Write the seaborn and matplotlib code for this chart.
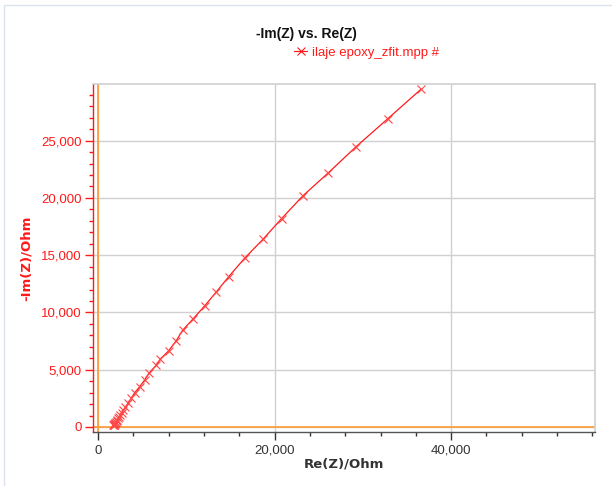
import numpy as np
import pandas as pd
import matplotlib
matplotlib.use("Agg")
import matplotlib.pyplot as plt
import seaborn as sns
from matplotlib.ticker import MultipleLocator, FixedLocator, FuncFormatter
from matplotlib.lines import Line2D
from matplotlib.patches import Rectangle

# Nyquist data: real and negative imaginary impedance (Ohm)
re_z = [36600, 32800, 29200, 26100, 23200, 20800, 18700, 16600, 14800, 13400,
        12100, 10750, 9600, 8850, 8000, 7050, 6600, 5750, 5270, 4700,
        4140, 3760, 3380, 3100, 2880, 2700, 2540, 2400, 2290, 2190,
        2100, 2030, 1970, 1920, 1880, 1840, 1810, 1780, 1760, 1740]
neg_im_z = [29500, 26900, 24450, 22200, 20180, 18200, 16400, 14730, 13120, 11790,
            10590, 9420, 8460, 7520, 6650, 5920, 5400, 4670, 4090, 3500,
            2980, 2490, 2050, 1720, 1450, 1230, 1040, 880, 750, 630,
            530, 450, 380, 320, 270, 230, 200, 175, 155, 140]
y_major = [0, 5000, 10000, 15000, 20000, 25000]
series_name = "ilaje epoxy_zfit.mpp #"

df = pd.DataFrame({"Re(Z)/Ohm": re_z, "-Im(Z)/Ohm": neg_im_z})

sns.set_theme(style="white")
plt.rcParams["font.family"] = ["Liberation Sans", "DejaVu Sans"]

RED = "#ff1a1a"
ORANGE = "#ff9a2e"
GRID = "#d0d0d0"
DARK = "#333333"

fig = plt.figure(figsize=(6.12, 4.86), dpi=100)
ax = fig.add_axes([93 / 612, 1 - 432 / 486, (595 - 93) / 612, (432 - 84) / 486])

# outer frame of the chart panel
fig.patches.append(Rectangle((4 / 612, -0.01), 1, 1 - 5 / 486 + 0.01, transform=fig.transFigure,
                             fill=False, edgecolor="#dde3ee", linewidth=1.0))

ax.axvline(0, color=ORANGE, lw=1.2, zorder=1)
ax.axhline(0, color=ORANGE, lw=1.2, zorder=1)

sns.lineplot(data=df, x="Re(Z)/Ohm", y="-Im(Z)/Ohm", sort=False, estimator=None,
             color=RED, lw=0.9, marker="x", markersize=6, markeredgewidth=0.8,
             markeredgecolor="#ff4848", ax=ax, zorder=3, legend=False)

ax.set_xlim(-570, 56300)
ax.set_ylim(-440, 29950)

ax.xaxis.set_major_locator(MultipleLocator(20000))
ax.xaxis.set_minor_locator(MultipleLocator(4000))
ax.yaxis.set_major_locator(FixedLocator(y_major))
ax.yaxis.set_minor_locator(MultipleLocator(1000))
fmt = FuncFormatter(lambda v, p: f"{int(v):,}")
ax.xaxis.set_major_formatter(fmt)
ax.yaxis.set_major_formatter(fmt)

ax.grid(True, which="major", color=GRID, lw=1.0)
ax.set_axisbelow(True)

for side in ("top", "right"):
    ax.spines[side].set_color(GRID)
    ax.spines[side].set_linewidth(1.2)
ax.spines["left"].set_color(RED)
ax.spines["left"].set_linewidth(1.0)
ax.spines["bottom"].set_color("#555555")
ax.spines["bottom"].set_linewidth(1.0)

ax.tick_params(axis="x", which="major", direction="out", length=6, width=1, color=DARK,
               labelcolor=DARK, labelsize=9.5, pad=3, bottom=True)
ax.tick_params(axis="x", which="minor", direction="out", length=3, width=1, color=DARK, bottom=True)
ax.tick_params(axis="y", which="major", direction="out", length=6, width=1, color=RED,
               labelcolor=RED, labelsize=9.5, pad=2, left=True)
ax.tick_params(axis="y", which="minor", direction="out", length=3, width=1, color=RED, left=True)

ax.set_xlabel("Re(Z)/Ohm", family=["DejaVu Sans"], fontweight="bold", fontsize=9.5,
              color=DARK, labelpad=1)
ax.set_ylabel("-Im(Z)/Ohm", family=["DejaVu Sans"], fontweight="bold", fontsize=9.5,
              color=RED, labelpad=6)

fig.text(0.5, 1 - 34 / 486, "-Im(Z) vs. Re(Z)", ha="center", va="center",
         fontsize=10, fontweight="bold", color="#111111")

handle = Line2D([], [], color=RED, lw=0.9, marker="x", markersize=6, markeredgewidth=0.8)
fig.legend([handle], [series_name], loc="center left", bbox_to_anchor=(294 / 612, 1 - 53 / 486),
           frameon=False, fontsize=9.5, labelcolor=RED, handlelength=1.0, handletextpad=0.4,
           borderpad=0, borderaxespad=0)

fig.savefig("out.png", dpi=100)
